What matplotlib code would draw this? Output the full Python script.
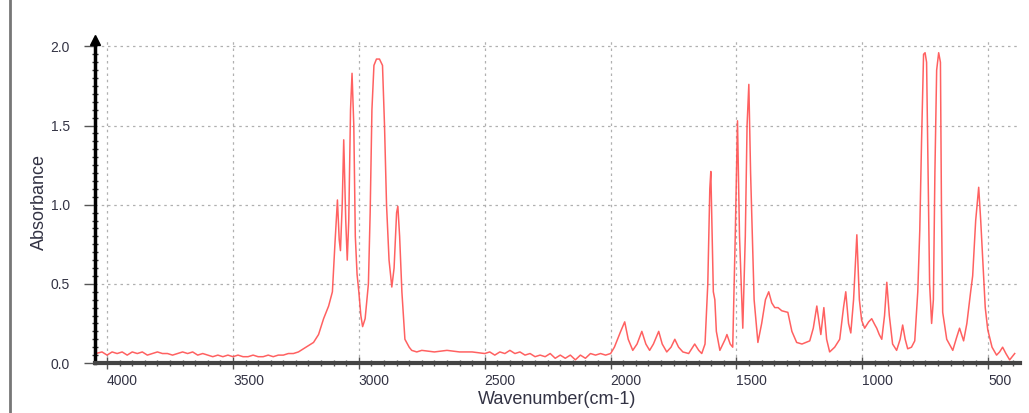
import numpy as np
import matplotlib.pyplot as plt
from matplotlib.ticker import MultipleLocator

# wavenumbers (cm-1) and absorbance
wavenumber = [4045, 4020, 4000, 3980, 3960, 3940, 3920, 3900, 3880, 3860, 3840, 3820, 3800,
              3780, 3760, 3740, 3720, 3700, 3680, 3660, 3640, 3620, 3600, 3580, 3560, 3540,
              3520, 3500, 3480, 3460, 3440, 3420, 3400, 3380, 3360, 3340, 3320, 3300, 3280,
              3260, 3240, 3220, 3200, 3180, 3160, 3140, 3120, 3105, 3095, 3085, 3078, 3073,
              3066, 3060, 3052, 3046, 3040, 3033, 3027, 3020, 3014, 3007, 3000, 2992, 2985,
              2975, 2962, 2955, 2948, 2940, 2930, 2918, 2906, 2898, 2890, 2880, 2869, 2860,
              2850, 2845, 2838, 2829, 2817, 2800, 2790, 2770, 2750, 2700, 2650, 2600, 2550,
              2500, 2480, 2460, 2440, 2420, 2400, 2380, 2360, 2340, 2320, 2300, 2280, 2260,
              2240, 2220, 2200, 2180, 2160, 2140, 2120, 2100, 2080, 2060, 2040, 2020, 2000,
              1985, 1960, 1944, 1930, 1912, 1895, 1876, 1860, 1845, 1830, 1809, 1795, 1777,
              1760, 1745, 1730, 1713, 1690, 1666, 1650, 1638, 1625, 1614, 1606, 1602, 1598,
              1592, 1586, 1580, 1566, 1545, 1538, 1525, 1515, 1505, 1496, 1488, 1475, 1465,
              1458, 1451, 1444, 1430, 1415, 1400, 1385, 1372, 1360, 1348, 1335, 1320, 1296,
              1280, 1261, 1240, 1209, 1195, 1181, 1165, 1153, 1142, 1130, 1110, 1090, 1075,
              1066, 1055, 1046, 1035, 1022, 1012, 1003, 991, 975, 963, 950, 943, 933, 923,
              912, 903, 893, 880, 864, 850, 840, 830, 820, 805, 792, 780, 772, 765, 757, 751,
              745, 740, 733, 725, 718, 712, 705, 697, 690, 686, 681, 665, 641, 626, 614, 598,
              585, 570, 562, 550, 538, 530, 522, 512, 502, 485, 467, 455, 443, 430, 415, 405, 395]
absorbance = [0.06, 0.07, 0.05, 0.07, 0.06, 0.07, 0.05, 0.07, 0.06, 0.07, 0.05, 0.06, 0.07,
              0.06, 0.06, 0.05, 0.06, 0.07, 0.06, 0.07, 0.05, 0.06, 0.05, 0.04, 0.05, 0.04,
              0.05, 0.04, 0.05, 0.04, 0.04, 0.05, 0.04, 0.04, 0.05, 0.04, 0.05, 0.05, 0.06,
              0.06, 0.07, 0.09, 0.11, 0.13, 0.18, 0.28, 0.36, 0.45, 0.75, 1.03, 0.78, 0.71,
              1.0, 1.41, 0.9, 0.65, 0.9, 1.6, 1.83, 1.5, 0.8, 0.56, 0.45, 0.3, 0.23,
              0.28, 0.5, 0.95, 1.6, 1.88, 1.92, 1.92, 1.88, 1.5, 1.0, 0.65, 0.48, 0.6,
              0.95, 0.99, 0.8, 0.45, 0.15, 0.1, 0.08, 0.07, 0.08, 0.07, 0.08, 0.07, 0.07,
              0.06, 0.07, 0.05, 0.07, 0.06, 0.08, 0.06, 0.07, 0.05, 0.06, 0.04, 0.05, 0.04,
              0.06, 0.03, 0.05, 0.03, 0.05, 0.02, 0.05, 0.03, 0.06, 0.05, 0.06, 0.05, 0.06,
              0.1, 0.2, 0.26, 0.15, 0.08, 0.12, 0.2, 0.12, 0.08, 0.12, 0.2, 0.12, 0.07,
              0.1, 0.15, 0.1, 0.07, 0.06, 0.12, 0.08, 0.06, 0.12, 0.5, 1.1, 1.21, 0.9,
              0.45, 0.40, 0.2, 0.08, 0.15, 0.18, 0.12, 0.1, 0.8, 1.53, 0.8, 0.22, 0.8,
              1.5, 1.76, 1.2, 0.4, 0.13, 0.25, 0.4, 0.45, 0.38, 0.35, 0.35, 0.33, 0.32,
              0.2, 0.13, 0.12, 0.14, 0.22, 0.36, 0.18, 0.35, 0.15, 0.07, 0.1, 0.15, 0.35,
              0.45, 0.25, 0.19, 0.4, 0.81, 0.4, 0.27, 0.22, 0.26, 0.28, 0.24, 0.22, 0.18, 0.15,
              0.3, 0.51, 0.3, 0.12, 0.08, 0.15, 0.24, 0.15, 0.09, 0.1, 0.14, 0.45, 0.84, 1.4, 1.95, 1.96,
              1.9, 1.3, 0.5, 0.25, 0.4, 1.2, 1.85, 1.96, 1.9, 1.0, 0.32, 0.15, 0.08, 0.16, 0.22, 0.14,
              0.25, 0.45, 0.55, 0.9, 1.11, 0.9, 0.65, 0.35, 0.21, 0.1, 0.05, 0.07, 0.1, 0.06, 0.02, 0.04, 0.06]

xticks = [4000, 3500, 3000, 2500, 2000, 1500, 1000, 500]
yticks = [0.0, 0.5, 1.0, 1.5, 2.0]

plt.rcParams['font.family'] = 'Liberation Sans'

fig = plt.figure(figsize=(10.29, 4.13), dpi=100)
ax = fig.add_axes([0.0923, 0.121, 0.8987, 0.782])

ax.plot(wavenumber, absorbance, color='#ff5050', lw=1.1, alpha=0.9)

ax.set_xlim(4048, 375)
ax.set_ylim(0, 2.04)
ax.set_xticks(xticks)
ax.set_yticks(yticks)
ax.set_yticklabels(['%.1f' % v for v in yticks])
ax.xaxis.set_minor_locator(MultipleLocator(50))
ax.yaxis.set_minor_locator(MultipleLocator(0.05))

ax.grid(True, which='major', color='#b0b0b0', linestyle=(0, (2, 3)), lw=0.9)

for s in ['top', 'right']:
    ax.spines[s].set_visible(False)
ax.spines['left'].set_color('black')
ax.spines['left'].set_linewidth(2.5)
ax.spines['bottom'].set_color('#444444')
ax.spines['bottom'].set_linewidth(3)

ax.tick_params(axis='y', which='major', direction='out', length=8, width=1, color='#555555',
               labelsize=10, labelcolor='#333344', pad=10)
ax.tick_params(axis='y', which='minor', direction='inout', length=5, width=1, color='#333333')
ax.tick_params(axis='x', which='major', direction='inout', length=8, width=1, color='#555555',
               labelsize=10, labelcolor='#333344', pad=4)
ax.tick_params(axis='x', which='minor', direction='inout', length=5, width=1, color='#555555')
for lab in ax.get_xticklabels():
    lab.set_ha('left')

# arrow on top of y axis
ax.plot(0, 1, marker='^', color='black', ms=7, transform=ax.transAxes, clip_on=False)

ax.set_xlabel('Wavenumber(cm-1)', fontsize=13, color='#333344', labelpad=2)
ax.set_ylabel('Absorbance', fontsize=13, color='#333344', labelpad=2)

# grey border line on the left
fig.add_artist(plt.Line2D([10 / 1029, 10 / 1029], [0, 1], color='#777777', lw=2))

fig.savefig('out.png', dpi=100)
